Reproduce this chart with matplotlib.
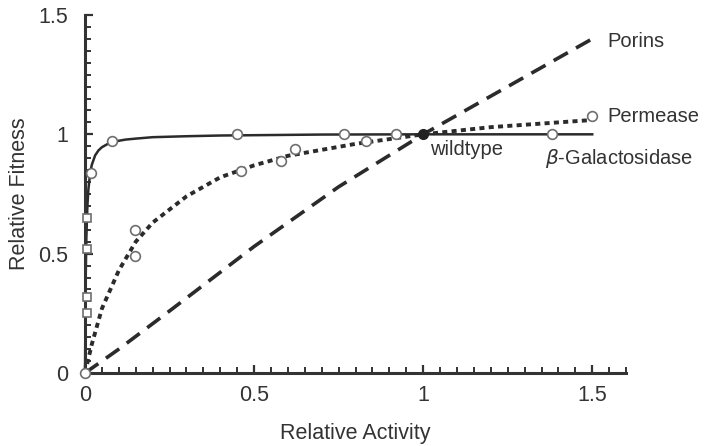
import numpy as np
import matplotlib
matplotlib.use("Agg")
import matplotlib.pyplot as plt
from matplotlib.ticker import MultipleLocator

plt.rcParams['font.family'] = ['Liberation Sans', 'DejaVu Sans']

gal_sq_x = [0.006, 0.006, 0.006, 0.006]
gal_sq_y = [0.25, 0.32, 0.52, 0.65]
gal_pt_x = [0.0, 0.018, 0.08, 0.45, 0.766, 0.92, 1.38]
gal_pt_y = [0.0, 0.84, 0.97, 1.0, 1.0, 1.0, 1.0]
gal_curve_x = [0.0, 0.002, 0.004, 0.007, 0.01, 0.015, 0.02, 0.03, 0.04, 0.05, 0.065,
               0.08, 0.1, 0.12, 0.15, 0.2, 0.3, 0.4, 0.7, 1.0, 1.5]
gal_curve_y = [0.0, 0.40, 0.57, 0.70, 0.77, 0.836, 0.872, 0.912, 0.933, 0.946, 0.958,
               0.967, 0.973, 0.978, 0.982, 0.988, 0.992, 0.995, 0.999, 1.0, 1.0]

# Permease: measured points and fitted curve
perm_pt_x = [0.148, 0.148, 0.46, 0.58, 0.62, 0.83, 1.5]
perm_pt_y = [0.60, 0.49, 0.845, 0.89, 0.94, 0.97, 1.075]
perm_curve_x = [0.0, 0.02, 0.05, 0.1, 0.15, 0.2, 0.3, 0.4, 0.5, 0.6, 0.8,
                1.0, 1.2, 1.5]
perm_curve_y = [0.0, 0.12, 0.27, 0.43, 0.55, 0.63, 0.74, 0.82, 0.87, 0.91, 0.96,
                1.0, 1.03, 1.06]

# Porins: fitted curve only
por_curve_x = [0.0, 0.1, 0.25, 0.5, 0.75, 1.0, 1.25, 1.5]
por_curve_y = [0.0, 0.10, 0.26, 0.53, 0.78, 1.0, 1.20, 1.40]

wt_x, wt_y = [1.0], [1.0]

fig = plt.figure(figsize=(7.05, 4.46), dpi=100)
ax = fig.add_axes([0.1206, 0.1637, 0.7674, 0.8027])

dark = '#2b2b2b'
grey = '#6e6e6e'
txt = '#333333'

ax.plot(por_curve_x, por_curve_y, color=dark, lw=2.6, dashes=(4.5, 2.6), clip_on=False)
ax.plot(perm_curve_x, perm_curve_y, color=dark, lw=2.8, dashes=(1.3, 1.1), clip_on=False)
ax.plot(gal_curve_x, gal_curve_y, color=dark, lw=1.8, clip_on=False)

ax.plot(gal_sq_x, gal_sq_y, 's', ms=6, mfc='white', mec=grey, mew=1.2, clip_on=False, zorder=5)
ax.plot(gal_pt_x, gal_pt_y, 'o', ms=7, mfc='white', mec=grey, mew=1.2, clip_on=False, zorder=5)
ax.plot(perm_pt_x, perm_pt_y, 'o', ms=7, mfc='white', mec=grey, mew=1.2, clip_on=False, zorder=5)
ax.plot(wt_x, wt_y, 'o', ms=7, color='#222222', clip_on=False, zorder=6)

ax.text(1.02, 0.935, 'wildtype', fontsize=14.5, va='center', ha='left', color=txt)
ax.text(1.545, 1.39, 'Porins', fontsize=14.5, va='center', ha='left', color=txt)
ax.text(1.545, 1.075, 'Permease', fontsize=14.5, va='center', ha='left', color=txt)
ax.text(1.36, 0.9, r'$\beta$-Galactosidase', fontsize=14.5, va='center', ha='left', color=txt)

ax.set_xlim(0, 1.6)
ax.set_ylim(0, 1.5)
ax.spines['top'].set_visible(False)
ax.spines['right'].set_visible(False)
for s in ['left', 'bottom']:
    ax.spines[s].set_linewidth(2.2)
    ax.spines[s].set_color(txt)

ax.xaxis.set_minor_locator(MultipleLocator(0.05))
ax.yaxis.set_minor_locator(MultipleLocator(0.05))
ax.set_xticks([0, 0.5, 1, 1.5])
ax.set_xticklabels(['0', '0.5', '1', '1.5'])
ax.set_yticks([0, 0.5, 1, 1.5])
ax.set_yticklabels(['0', '0.5', '1', '1.5'])
ax.tick_params(which='major', direction='in', length=6, width=1.6, labelsize=15.5,
               color=txt, labelcolor=txt)
ax.tick_params(axis='y', which='major', pad=12)
ax.tick_params(axis='x', which='major', pad=9)
ax.tick_params(which='minor', direction='in', length=4, width=1.4, color=txt)

ax.set_xlabel('Relative Activity', fontsize=15.5, color=txt, labelpad=12)
ax.set_ylabel('Relative Fitness', fontsize=15.5, color=txt, labelpad=6)

fig.savefig('out.png', dpi=100)
